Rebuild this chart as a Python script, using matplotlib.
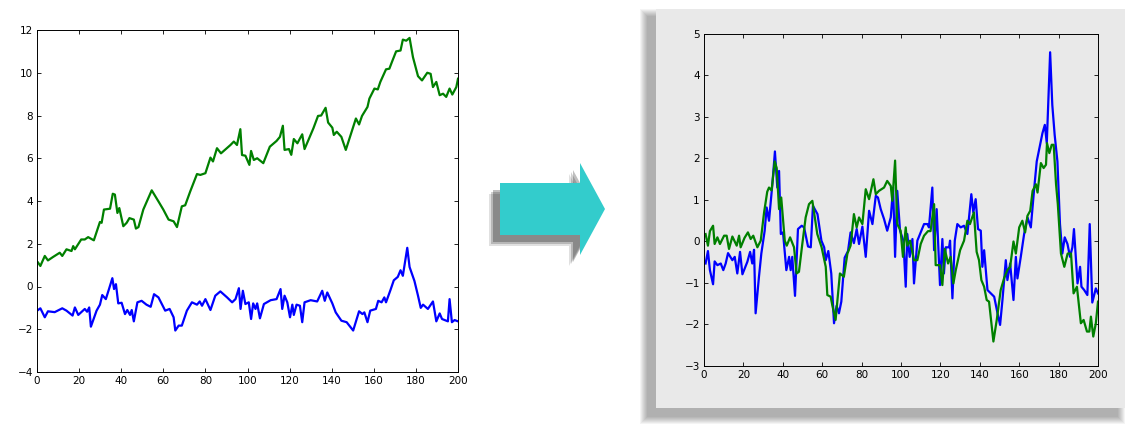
import matplotlib
matplotlib.use("Agg")
import matplotlib.pyplot as plt
from matplotlib.patches import Rectangle, Polygon

# Left chart
lg_x = [0.5,1.6,3.7,5.2,7.6,10.8,12,14,16.4,17.2,18,21,22.7,24.3,27,29.9,30.7,31.8,34.7,36,37,38.2,39.1,41,42.6,43.9,46,47,48.2,50.5,54.5,57.7,60,62.5,64.9,66.5,68.8,70.4,72.8,76,77.6,80,82.4,83.6,85.5,87.4,91.9,93.5,95,96.6,97.4,99,100.9,101.7,103,104.6,107.5,110.6,113.8,115.4,116.8,117.6,119.7,120.8,122,123.7,126,127.1,128.8,131.3,133.5,135,137.1,138.3,140.3,141,142.4,144.6,146.7,151.5,153,154.4,157,157.9,160.3,161.9,163.1,165.8,167.4,168.6,170.6,172.7,173.8,175.4,177,178.6,181,182.9,185.4,187,188.1,189.7,191.3,192.9,194.4,196,197.3,199.2,200]
lg_y = [1.12,0.96,1.43,1.22,1.38,1.58,1.43,1.74,1.66,1.89,1.74,2.2,2.2,2.31,2.16,3.02,2.98,3.6,3.64,4.34,4.3,3.44,3.67,2.82,2.98,3.2,3.13,2.71,2.78,3.6,4.5,3.98,3.6,3.13,3.05,2.78,3.75,3.8,4.45,5.26,5.22,5.3,6.03,5.85,6.47,6.23,6.62,6.78,6.62,7.36,6.15,6.12,5.69,6.34,5.92,6.0,5.77,6.54,6.81,7.0,7.52,6.39,6.43,6.16,6.9,6.7,7.12,6.43,6.82,7.4,7.98,8.0,8.36,7.67,7.43,7.09,7.24,7.0,6.39,7.86,7.58,7.98,8.4,8.79,9.26,9.22,9.57,10.16,10.19,10.5,11.0,11.04,11.55,11.5,11.63,10.73,9.84,9.64,10.0,9.95,9.33,9.57,8.95,9.02,8.87,9.26,8.98,9.33,9.72]
lb_x = [0.5,1.6,3.7,5.2,8.4,12,14,16.9,18,19.6,22.7,23.8,24.8,25.6,28.3,29.9,31,32.7,34.2,35.8,36.6,37.5,38.6,40.2,41.8,42.9,44.2,45,46,47.7,49.7,52,54,55.6,57.7,60.9,63,64.9,65.7,67.3,68.8,71.2,73.6,76,77.3,78.4,80,82.4,84.7,87.1,90.3,92.7,94.3,95.9,96.7,97.8,99,100.6,101.7,102.7,103.8,104.6,105.9,107.8,111,113.8,115.7,116.5,117.6,118.9,120.2,121.3,122,123.3,124.9,126,127.1,130,133.1,135.5,136.7,137.9,140.3,141.9,144.6,147.1,150.2,153,154.6,155.5,157,158.3,161,162.1,163.7,165,165.8,167.9,169.5,171.4,172.7,173.8,175.9,177,179.3,181,182.3,183.4,185.7,188.1,189.7,191.3,192.4,195.2,196,197.1,198.4,200]
lb_y = [-1.1,-1.02,-1.44,-1.16,-1.2,-1.02,-1.13,-1.36,-0.98,-1.33,-1.05,-1.18,-0.98,-1.88,-1.13,-0.85,-0.4,-0.59,-0.12,0.39,-0.12,0.11,-0.79,-0.76,-1.29,-1.1,-1.33,-1.1,-1.63,-0.74,-0.67,-0.85,-0.95,-0.36,-0.51,-1.13,-1.05,-1.44,-2.06,-1.83,-1.83,-1.13,-0.74,-0.85,-0.7,-0.9,-0.59,-1.1,-0.43,-0.23,-0.51,-0.74,-0.59,-0.08,-1.05,-0.2,-0.82,-0.74,-1.52,-0.79,-1.05,-0.79,-1.49,-0.82,-0.64,-0.59,-0.12,-1.05,-0.43,-0.74,-1.44,-0.85,-1.33,-0.85,-0.9,-1.67,-0.74,-0.64,-0.7,-0.2,-0.67,-0.28,-0.79,-1.21,-1.6,-1.67,-2.06,-1.16,-1.29,-1.21,-1.67,-1.13,-1.05,-0.67,-0.74,-0.51,-0.74,-0.17,0.29,0.45,0.76,0.5,1.81,0.91,0.26,-0.43,-1.0,-0.85,-1.05,-0.7,-1.63,-1.26,-1.52,-1.63,-0.59,-1.67,-1.57,-1.63]

# Right chart
rb_x = [0.8,2,3,4.6,5.4,6.8,8.5,9.8,11,12.2,14.4,15.6,16.9,18.3,19.5,22,23.4,24.5,25.4,26.2,27.9,29.1,30.8,31.8,33,34.7,36,37.2,38.1,39,40.1,41.8,43.2,44,44.8,46.2,47.7,49.6,50.8,52.8,54.2,55.3,57.6,59.6,61,61.8,63.1,64.6,66,67.3,68.5,69.7,71.4,73.1,74.4,76.1,77.5,78.7,80.4,82.1,83.8,85.5,87.2,88.3,89.7,91.4,93,94.8,96,97,98.1,99.5,101.2,102.4,103.2,104.4,105.8,106.6,108.3,110,111.7,113.4,114.2,115.9,116.8,118.1,119.8,121,121.8,122.7,124.4,124.9,126.1,127.3,128.6,130.3,132,133.7,135.7,136.7,137.9,139.1,140.5,141.3,142.2,143.9,145.6,147.3,149,150.3,151.5,153.2,154,155.4,157.1,158.3,159.1,160.8,162.5,164.2,165.9,167.5,168.9,170.6,171.8,173,174,175.7,176.8,178,179.4,180.7,181.9,183.1,184.5,185.8,187,187.8,189.6,190.9,191.6,193,194.6,195.8,197.1,198.9,200]
rb_y = [-0.53,-0.23,-0.69,-1.03,-0.48,-0.57,-0.53,-0.69,-0.53,-0.28,-0.45,-0.37,-0.77,-0.25,-0.79,-0.49,-0.25,-0.53,-0.2,-1.73,-0.85,-0.29,0.26,0.82,0.5,1.38,2.17,1.3,1.7,0.18,0.22,-0.69,-0.37,-0.69,-0.37,-1.31,0.3,0.38,0.34,-0.12,-0.14,0.86,0.66,0.02,-0.14,-0.45,-0.23,-0.77,-1.97,-1.55,-1.73,-1.45,-0.39,-0.23,0.22,-0.04,0.3,-0.06,0.36,-0.37,0.74,0.42,1.1,1.06,0.78,0.54,0.26,0.58,1.3,-0.37,1.22,0.26,0.02,-1.09,0.18,-0.37,0.06,-1.01,0.02,0.22,0.42,0.42,0.34,1.3,-0.21,0.78,-1.05,0.06,-0.77,-0.14,-0.14,0.02,-1.37,0.02,0.42,0.34,0.38,0.18,1.14,0.7,1.02,0.3,0.26,-0.61,-0.21,-1.17,-1.25,-1.33,-1.73,-2.01,-1.41,-0.45,-0.93,-0.53,-1.41,-0.37,-0.89,-0.37,0.18,0.58,0.34,1.22,1.93,2.33,2.61,2.81,2.37,4.56,3.29,2.57,1.93,0.42,-0.29,0.10,-0.06,-0.37,-0.14,0.3,-1.01,-0.61,-1.09,-1.17,-1.29,0.42,-1.47,-1.13,-1.25]
rg_x = [0.8,2,3,4.6,5.4,6.8,8.1,10.2,11.5,12.7,14.4,16.6,17.8,18.6,20.6,22.3,23.7,25,27.1,28.8,30.5,32.1,33,34.3,35.9,36.9,38.1,39.2,41,42,43.7,45.7,47,48.2,49.9,51.6,53.3,55,57.5,59.7,61.8,62.6,64.3,65.1,66.8,69,71,72.8,74.4,76.1,77.5,78.7,80.4,82.1,83.8,86,87.2,88.8,91.4,93,94.8,95.6,97,98.1,99.8,101,102.4,103.2,104.6,106.6,108.3,110,111.7,113.7,115,116.8,117.6,119.8,121,122.2,123.9,125.2,126.6,127.8,130,132,133.7,135,137,138.4,139.6,140.8,142.2,143.5,144.7,146.9,148.6,150.6,152.3,154,155.4,157.1,158.3,160,161.6,163,164.2,165.6,166.8,168.5,169.3,171,172.4,173.6,174.1,175.3,176.5,177.5,178.7,179.6,181.2,182.9,184.6,186.3,187.6,189.3,191.3,192.7,194.4,195.6,196.4,197.6,198.9,200]
rg_y = [0.18,-0.1,0.25,0.38,-0.06,0.10,-0.06,0.14,0.14,-0.18,0.12,-0.1,0.14,-0.14,0.09,0.22,0.06,0.14,-0.14,0.02,0.70,1.2,1.3,1.23,1.93,1.77,0.78,1.06,0.02,-0.1,0.1,-0.14,-0.77,-0.73,-0.06,0.58,0.9,0.98,0.18,-0.14,-0.61,-1.29,-1.33,-1.53,-1.89,-0.77,-0.85,-0.29,-0.1,0.66,0.34,0.58,0.42,1.26,1.02,1.5,1.14,1.22,1.3,1.46,1.34,0.98,1.95,0.42,0.26,-0.37,0.34,-0.1,0.02,-0.45,-0.45,-0.06,0.14,0.25,0.25,0.9,-0.57,-0.57,-1.05,-0.18,-0.53,-0.37,-1.01,-0.69,-0.21,0.02,0.5,0.42,0.7,-0.25,-0.45,-0.93,-1.09,-1.41,-1.45,-2.41,-1.89,-1.17,-0.89,-0.69,-0.61,0.0,-0.29,0.34,0.5,0.22,0.62,0.74,1.22,1.38,1.18,1.89,1.77,1.85,2.37,2.13,2.33,2.33,1.38,0.9,-0.29,-0.61,-0.29,-0.29,-1.25,-1.09,-1.97,-1.89,-2.17,-2.17,-1.81,-2.29,-1.97,-1.45]

W, H = 1141, 424
fig = plt.figure(figsize=(W/100, H/100), dpi=100)
fig.patch.set_facecolor("white")

def px(x0, y0, x1, y1):
    return [x0/W, 1 - y1/H, (x1-x0)/W, (y1-y0)/H]

def rect_px(x0, y0, x1, y1, **kw):
    fig.patches.append(Rectangle((x0/W, 1 - y1/H), (x1-x0)/W, (y1-y0)/H,
                                 transform=fig.transFigure, edgecolor="none", **kw))

# soft shadow offset to the lower left of the panel
PX0, PY0, PX1, PY1 = 656, 9, 1125, 408
for g in range(8, 0, -1):
    rect_px(PX0 - 8 - g, PY0 + 8 - g, PX1 - 8 + g, PY1 + 8 + g,
            facecolor="black", alpha=0.045, zorder=0)
rect_px(PX0, PY0, PX1, PY1, facecolor="#e9e9e9", zorder=1)

# arrow shadow + arrow
def arrow_pts(dx, dy):
    pts = [(500,183),(580,183),(580,163),(605,209),(580,255),(580,235),(500,235)]
    return [((x+dx)/W, 1-(y+dy)/H) for x, y in pts]
for g, a in [(4, 0.12), (2, 0.18), (0, 0.25)]:
    fig.patches.append(Polygon(arrow_pts(-7 - g, 7 + g), closed=True, transform=fig.transFigure,
                               facecolor="black", alpha=a, edgecolor="none", zorder=1))
fig.patches.append(Polygon(arrow_pts(0, 0), closed=True, transform=fig.transFigure,
                           facecolor="#33cccc", edgecolor="none", zorder=2))

def style(ax):
    ax.tick_params(direction="in", top=True, right=True, labelsize=7.5, length=3, width=0.6, pad=3)
    for s in ax.spines.values():
        s.set_linewidth(0.7)
    ax.set_xlim(0, 200)
    ax.set_xticks(range(0, 201, 20))

ax1 = fig.add_axes(px(37, 30, 458, 372))
ax1.plot(lg_x, lg_y, color="green", lw=1.6)
ax1.plot(lb_x, lb_y, color="blue", lw=1.6)
style(ax1)
ax1.set_ylim(-4, 12)
ax1.set_yticks(range(-4, 13, 2))

ax2 = fig.add_axes(px(704, 34, 1098, 366))
ax2.set_zorder(3)
ax2.patch.set_facecolor("#e9e9e9")
ax2.plot(rb_x, rb_y, color="blue", lw=1.6)
ax2.plot(rg_x, rg_y, color="green", lw=1.6)
style(ax2)
ax2.set_ylim(-3, 5)
ax2.set_yticks(range(-3, 6))

fig.savefig("out.png", dpi=100)
